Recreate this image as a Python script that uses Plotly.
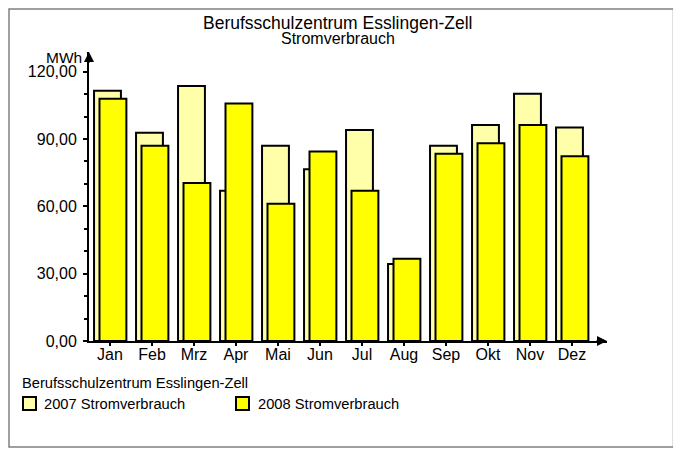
import plotly.graph_objects as go

months = ["Jan", "Feb", "Mrz", "Apr", "Mai", "Jun", "Jul", "Aug", "Sep", "Okt", "Nov", "Dez"]
values_2007 = [111.5, 92.8, 113.6, 67.0, 87.0, 76.5, 94.0, 34.3, 87.0, 96.3, 110.2, 95.1]
values_2008 = [108.0, 87.0, 70.4, 105.8, 61.2, 84.4, 67.0, 36.7, 83.5, 88.1, 96.3, 82.3]
series_names = ["2007 Stromverbrauch", "2008 Stromverbrauch"]
series_colors = ["#FFFFAA", "#FFFF00"]
y_tickvals = [0, 30, 60, 90, 120]
y_ticktext = ["0,00", "30,00", "60,00", "90,00", "120,00"]
title_text = "Berufsschulzentrum Esslingen-Zell"
subtitle_text = "Stromverbrauch"
unit_text = "MWh"

# page has an 8px body margin; work in page pixel coordinates
OFF = 8
W, H = 681 - OFF, 450 - OFF
PL, PR, PT, PB = 89, 607, 52, 341          # plot area in page pixels
L, R, T, B = PL - OFF, W - (PR - OFF), PT - OFF, H - (PB - OFF)
pw, ph = PR - PL, PB - PT

def px_x(p):
    return (p - PL) / pw

def px_y(p):
    return (PB - p) / ph

FONT = "Liberation Sans, Arial, sans-serif"
x_idx = list(range(len(months)))

fig = go.Figure()
fig.add_trace(go.Bar(
    x=x_idx, y=values_2007, name=series_names[0],
    width=0.64, offset=-0.38,
    marker=dict(color=series_colors[0], line=dict(color="black", width=2)),
))
fig.add_trace(go.Bar(
    x=x_idx, y=values_2008, name=series_names[1],
    width=0.64, offset=-0.25,
    marker=dict(color=series_colors[1], line=dict(color="black", width=2)),
))

shapes = [dict(
    type="rect", xref="paper", yref="paper",
    x0=px_x(9), x1=px_x(673.5), y0=px_y(447), y1=px_y(9),
    line=dict(color="#808080", width=1.5), fillcolor="rgba(0,0,0,0)", layer="above",
)]
annotations = [
    dict(text=title_text, xref="paper", yref="paper", x=px_x(337), y=px_y(22.5),
         xanchor="center", yanchor="middle", showarrow=False, font=dict(size=17.5)),
    dict(text=subtitle_text, xref="paper", yref="paper", x=px_x(338), y=px_y(38.5),
         xanchor="center", yanchor="middle", showarrow=False, font=dict(size=16)),
    dict(text=unit_text, xref="paper", yref="paper", x=px_x(84), y=px_y(57),
         xanchor="right", yanchor="middle", showarrow=False, font=dict(size=15.5)),
    dict(text="", xref="paper", yref="paper", x=0, y=1, ax=0, ay=12,
         showarrow=True, arrowhead=2, arrowsize=1, arrowwidth=2, arrowcolor="black"),
    dict(text="", xref="paper", yref="paper", x=1, y=0, ax=-12, ay=0,
         showarrow=True, arrowhead=2, arrowsize=1, arrowwidth=2, arrowcolor="black"),
    # legend title
    dict(text=title_text, xref="paper", yref="paper", x=px_x(19.5), y=px_y(383),
         xanchor="left", yanchor="middle", showarrow=False, font=dict(size=14.7)),
]
legend_box_x = [23, 236]
legend_text_x = [42, 255.5]
for i in range(2):
    shapes.append(dict(
        type="rect", xref="paper", yref="paper",
        x0=px_x(legend_box_x[i]), x1=px_x(legend_box_x[i] + 13),
        y0=px_y(410), y1=px_y(397),
        line=dict(color="black", width=2), fillcolor=series_colors[i],
    ))
    annotations.append(dict(
        text=series_names[i], xref="paper", yref="paper",
        x=px_x(legend_text_x[i]), y=px_y(404),
        xanchor="left", yanchor="middle", showarrow=False, font=dict(size=14.7),
    ))

fig.update_layout(
    width=W, height=H,
    margin=dict(l=L, r=R, t=T, b=B, pad=0),
    paper_bgcolor="white", plot_bgcolor="white",
    barmode="overlay",
    font=dict(family=FONT, size=16, color="black"),
    showlegend=False,
    xaxis=dict(
        range=[-0.5, -0.5 + pw / 42.0],
        tickvals=x_idx, ticktext=months,
        showline=True, linecolor="black", linewidth=2,
        ticks="outside", ticklen=3, tickwidth=2, tickcolor="black",
        ticklabelstandoff=-5,
        showgrid=False, zeroline=False, fixedrange=True,
        tickfont=dict(size=16),
    ),
    yaxis=dict(
        range=[0, ph / 2.244],
        tickvals=y_tickvals, ticktext=y_ticktext,
        showline=True, linecolor="black", linewidth=2,
        ticks="outside", ticklen=4, tickwidth=2, tickcolor="black",
        ticklabelstandoff=3,
        minor=dict(dtick=10, ticks="outside", ticklen=3, tickwidth=2, tickcolor="black"),
        showgrid=False, zeroline=False, fixedrange=True,
        tickfont=dict(size=16),
    ),
    shapes=shapes,
    annotations=annotations,
)

fig.write_html("out.html")
